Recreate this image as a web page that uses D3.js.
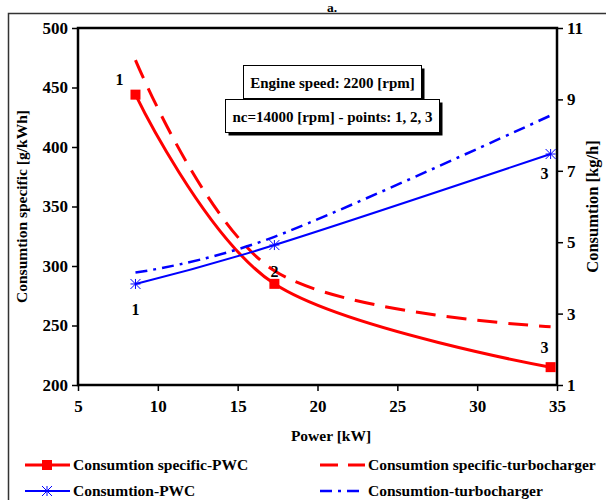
<!DOCTYPE html>
<html><head><meta charset="utf-8">
<script src="https://cdn.jsdelivr.net/npm/d3@7"></script>
<style>
body{margin:0;background:#fff;}
svg text{font-family:"Liberation Serif","Times New Roman",serif;font-weight:bold;fill:#000;}
</style></head>
<body><svg id="c" width="606" height="500"></svg>
<script>
const power = [8.6, 17.3, 34.6];
const specPWC = [444, 285, 215];
const specTurbo = [473, 296, 249];
const consPWC = [3.83, 4.92, 7.47];
const consTurbo = [4.15, 5.15, 8.55];
const xTicks = [5, 10, 15, 20, 25, 30, 35];
const yLeftTicks = [200, 250, 300, 350, 400, 450, 500];
const yRightTicks = [1, 3, 5, 7, 9, 11];
const pointLabels = ["1", "2", "3"];
const legendNames = ["Consumtion specific-PWC", "Consumtion specific-turbocharger", "Consumtion-PWC", "Consumtion-turbocharger"];

const svg = d3.select("#c");
const L = 78, R = 557, T = 28, B = 385;
const x = d3.scaleLinear().domain([5, 35]).range([L, R]);
const yL = d3.scaleLinear().domain([200, 500]).range([B, T]);
const yR = d3.scaleLinear().domain([1, 11]).range([B, T]);

// outer frame
svg.append("rect").attr("x", 8.5).attr("y", 13.5).attr("width", 610).attr("height", 500)
  .attr("fill", "none").attr("stroke", "#333").attr("stroke-width", 1.5);
svg.append("text").attr("x", 332).attr("y", 12).attr("text-anchor", "middle")
  .attr("font-size", 13.5).text("a.");

// axes
const axB = d3.axisBottom(x).tickValues(xTicks).tickSize(6).tickPadding(9);
const axL = d3.axisLeft(yL).tickValues(yLeftTicks).tickSize(6).tickPadding(4);
const axR = d3.axisRight(yR).tickValues(yRightTicks).tickSize(6).tickPadding(4);
function style(g){
  g.selectAll("path").remove();
  g.selectAll("line").attr("stroke", "#000").attr("stroke-width", 1.5);
  g.selectAll("text").attr("font-size", 17).attr("font-family", "Liberation Serif").attr("font-weight", "bold");
}
svg.append("g").attr("transform", `translate(0,${B})`).call(axB).call(style);
svg.append("g").attr("transform", `translate(${L},0)`).call(axL).call(style);
svg.append("g").attr("transform", `translate(${R},0)`).call(axR).call(style);
svg.append("rect").attr("x", L).attr("y", T).attr("width", R - L).attr("height", B - T)
  .attr("fill", "none").attr("stroke", "#000").attr("stroke-width", 2.5);

// axis titles
svg.append("text").attr("transform", `translate(27,${(T + B) / 2}) rotate(-90)`)
  .attr("text-anchor", "middle").attr("font-size", 15.5).text("Consumtion specific [g/kWh]");
svg.append("text").attr("transform", `translate(598,${(T + B) / 2}) rotate(-90)`)
  .attr("text-anchor", "middle").attr("font-size", 16.5).text("Consumtion [kg/h]");
svg.append("text").attr("x", 331).attr("y", 441).attr("text-anchor", "middle")
  .attr("font-size", 15.5).text("Power [kW]");

// lines
const curve = d3.curveCardinal.tension(0);
function lineFor(vals, ys){
  return d3.line().x((d, i) => x(power[i])).y(d => ys(d)).curve(curve)(vals);
}
svg.append("path").attr("d", lineFor(specTurbo, yL)).attr("fill", "none")
  .attr("stroke", "#ff0000").attr("stroke-width", 3).attr("stroke-dasharray", "20,11");
svg.append("path").attr("d", lineFor(specPWC, yL)).attr("fill", "none")
  .attr("stroke", "#ff0000").attr("stroke-width", 3);
svg.append("path").attr("d", lineFor(consTurbo, yR)).attr("fill", "none")
  .attr("stroke", "#0000ff").attr("stroke-width", 2.5).attr("stroke-dasharray", "12,6,3,6");
svg.append("path").attr("d", lineFor(consPWC, yR)).attr("fill", "none")
  .attr("stroke", "#0000ff").attr("stroke-width", 2);

// markers
function square(g, cx, cy){
  g.append("rect").attr("x", cx - 5).attr("y", cy - 5).attr("width", 10).attr("height", 10).attr("fill", "#ff0000");
}
function star(g, cx, cy){
  const s = 5;
  const p = `M${cx - s},${cy}H${cx + s}M${cx},${cy - s}V${cy + s}M${cx - s},${cy - s}L${cx + s},${cy + s}M${cx - s},${cy + s}L${cx + s},${cy - s}`;
  g.append("path").attr("d", p).attr("stroke", "#0000ff").attr("stroke-width", 1).attr("fill", "none");
}
const mk = svg.append("g");
power.forEach((p, i) => { square(mk, x(p), yL(specPWC[i])); star(mk, x(p), yR(consPWC[i])); });

// point labels
const lab = svg.append("g").attr("font-size", 16).attr("text-anchor", "middle");
const redOff = [[-16, -10], [0, -7], [-6, -14]];
const blueOff = [[0, 31], null, [-6, 25]];
power.forEach((p, i) => {
  lab.append("text").attr("x", x(p) + redOff[i][0]).attr("y", yL(specPWC[i]) + redOff[i][1]).text(pointLabels[i]);
  if (blueOff[i]) lab.append("text").attr("x", x(p) + blueOff[i][0]).attr("y", yR(consPWC[i]) + blueOff[i][1]).text(pointLabels[i]);
});

// annotation boxes
function box(x0, y0, w, h, txt){
  svg.append("rect").attr("x", x0 + 3).attr("y", y0 + 3).attr("width", w).attr("height", h).attr("fill", "#000");
  svg.append("rect").attr("x", x0).attr("y", y0).attr("width", w).attr("height", h).attr("fill", "#fff")
    .attr("stroke", "#000").attr("stroke-width", 1);
  svg.append("text").attr("x", x0 + w / 2).attr("y", y0 + h / 2 + 5.5).attr("text-anchor", "middle")
    .attr("font-size", 15).text(txt);
}
box(243.5, 65.5, 178, 33, "Engine speed: 2200 [rpm]");
box(225.5, 99.5, 214, 33, "nc=14000 [rpm] - points: 1, 2, 3");

// legend
const lg = svg.append("g");
const legItems = [
  {x: 25, y: 465, color: "#ff0000", w: 3, dash: null, m: "sq"},
  {x: 320, y: 465, color: "#ff0000", w: 3, dash: "18,10", m: null},
  {x: 25, y: 491, color: "#0000ff", w: 2, dash: null, m: "st"},
  {x: 320, y: 491, color: "#0000ff", w: 2.5, dash: "12,6,3,6", m: null}
];
legItems.forEach((it, i) => {
  lg.append("line").attr("x1", it.x).attr("x2", it.x + 45).attr("y1", it.y).attr("y2", it.y)
    .attr("stroke", it.color).attr("stroke-width", it.w).attr("stroke-dasharray", it.dash);
  if (it.m === "sq") square(lg, it.x + 22, it.y);
  if (it.m === "st") star(lg, it.x + 22, it.y);
  lg.append("text").attr("x", it.x + 48).attr("y", it.y + 5).attr("font-size", 15.5).text(legendNames[i]);
});
</script></body></html>
